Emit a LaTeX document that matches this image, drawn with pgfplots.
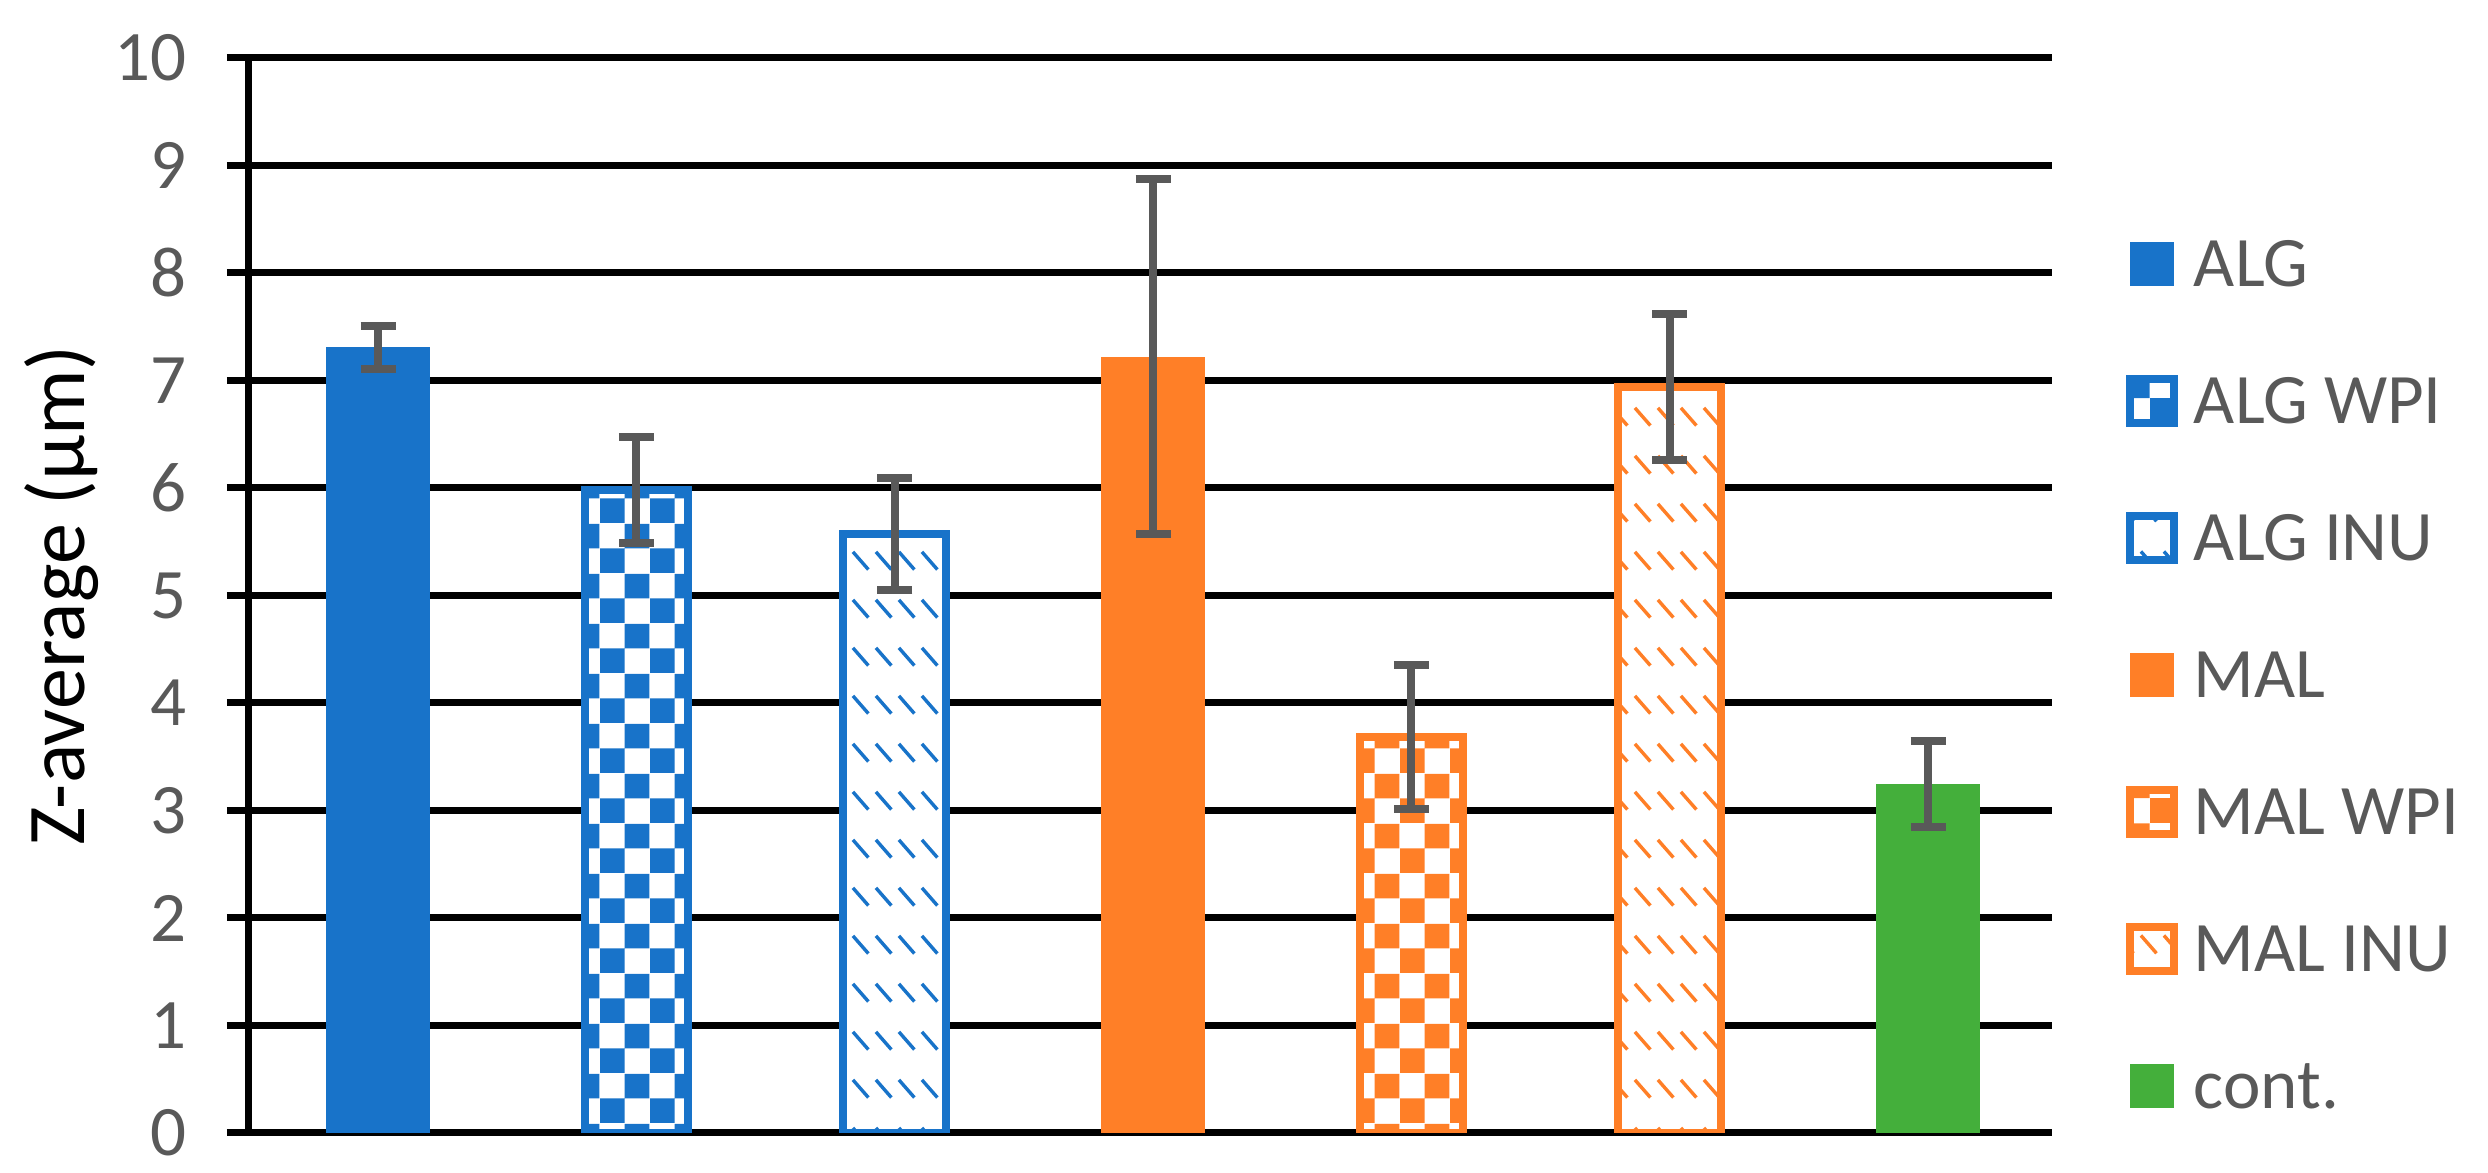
\documentclass[border=0pt]{standalone}
\usepackage{fontspec}
\setmainfont{Carlito}
\usepackage{pgfplots}
\pgfplotsset{compat=1.18}
\usetikzlibrary{patterns.meta}

\definecolor{algblue}{RGB}{24,115,201}
\definecolor{malorange}{RGB}{255,127,39}
\definecolor{contgreen}{RGB}{68,175,59}
\definecolor{txtgray}{RGB}{89,89,89}

% large checker board
\pgfdeclarepattern{
  name=checker, type=uncolored,
  bottom left={\pgfpoint{0pt}{0pt}}, top right={\pgfpoint{10pt}{10pt}},
  tile size={\pgfpoint{10pt}{10pt}},
  code={
    \pgfpathrectangle{\pgfpoint{0pt}{0pt}}{\pgfpoint{5pt}{5pt}}
    \pgfpathrectangle{\pgfpoint{5pt}{5pt}}{\pgfpoint{5pt}{5pt}}
    \pgfusepath{fill}
  }}

% rows of short dashes
\pgfdeclarepattern{
  name=dashrows, type=uncolored,
  bottom left={\pgfpoint{0pt}{0pt}}, top right={\pgfpoint{4.6pt}{9.6pt}},
  tile size={\pgfpoint{4.6pt}{9.6pt}},
  code={
    \pgfsetlinewidth{0.7pt}
    \pgfpathmoveto{\pgfpoint{0.4pt}{9.2pt}}
    \pgfpathlineto{\pgfpoint{3.6pt}{5.6pt}}
    \pgfusepath{stroke}
  }}

\pgfplotsset{
  sqlegend/.style={legend image code/.code={
    \path[##1] (0pt,-4.4pt) rectangle (8.8pt,4.4pt);
    \path (12pt,0pt);}},
}

\begin{document}
\begin{tikzpicture}
\begin{axis}[
  at={(0,0)}, anchor=south west,
  scale only axis, width=360.6pt, height=215pt,
  xmin=-0.5, xmax=6.48, ymin=0, ymax=10,
  ytick={0,1,...,10}, xtick=\empty,
  axis lines*=left,
  axis line style={line width=1.4pt, black},
  ymajorgrids, grid style={line width=1.4pt, black},
  tick align=outside, major tick length=4.4pt,
  tick style={line width=1.4pt, black},
  ybar, bar width=0.4, bar shift=0pt,
  ticklabel style={font=\fontsize{14.2}{17}\selectfont, text=txtgray},
  yticklabel style={xshift=-4.5pt},
  /pgf/number format/assume math mode=true,
  ylabel={Z-average (µm)},
  every axis y label/.style={at={(axis description cs:0,0.5)}, xshift=-37.4pt,
    rotate=90, anchor=center, font=\fontsize{16.4}{19}\selectfont},
  error bars/y dir=both, error bars/y explicit,
  error bars/error bar style={line width=1.6pt, txtgray},
  error bars/error mark options={rotate=90, mark size=3.5pt, line width=1.6pt, txtgray},
  legend cell align=left,
  legend style={at={(1.041,0.8721)}, anchor=north west, draw=none, fill=none,
    inner sep=0pt, outer sep=0pt, row sep=0pt,
    font=\fontsize{14.2}{17}\selectfont, text=txtgray,
    nodes={inner sep=0pt, text height=18.27pt, text depth=9.13pt}},
]
% ALG
\addplot[fill=algblue, draw=none, sqlegend] coordinates {(0,7.31) +- (0,0.20)};
% ALG WPI
\addplot[fill=white, draw=none, forget plot] coordinates {(1,5.98)};
\addplot[pattern=checker, pattern color=algblue, draw=algblue, line width=1.6pt, sqlegend]
  coordinates {(1,5.98) +- (0,0.49)};
% ALG INU
\addplot[fill=white, draw=none, forget plot] coordinates {(2,5.57)};
\addplot[pattern=dashrows, pattern color=algblue, draw=algblue, line width=1.6pt, sqlegend]
  coordinates {(2,5.57) +- (0,0.52)};
% MAL
\addplot[fill=malorange, draw=none, sqlegend] coordinates {(3,7.22) +- (0,1.65)};
% MAL WPI
\addplot[fill=white, draw=none, forget plot] coordinates {(4,3.68)};
\addplot[pattern=checker, pattern color=malorange, draw=malorange, line width=1.6pt, sqlegend]
  coordinates {(4,3.68) +- (0,0.67)};
% MAL INU
\addplot[fill=white, draw=none, forget plot] coordinates {(5,6.94)};
\addplot[pattern=dashrows, pattern color=malorange, draw=malorange, line width=1.6pt, sqlegend]
  coordinates {(5,6.94) +- (0,0.68)};
% cont.
\addplot[fill=contgreen, draw=none, sqlegend] coordinates {(6,3.25) +- (0,0.40)};
\legend{ALG, ALG WPI, ALG INU, MAL, MAL WPI, MAL INU, cont.}
\end{axis}
\path (-49.8pt,-7.4pt) rectangle (447.8pt,226.6pt);
\end{tikzpicture}
\end{document}
